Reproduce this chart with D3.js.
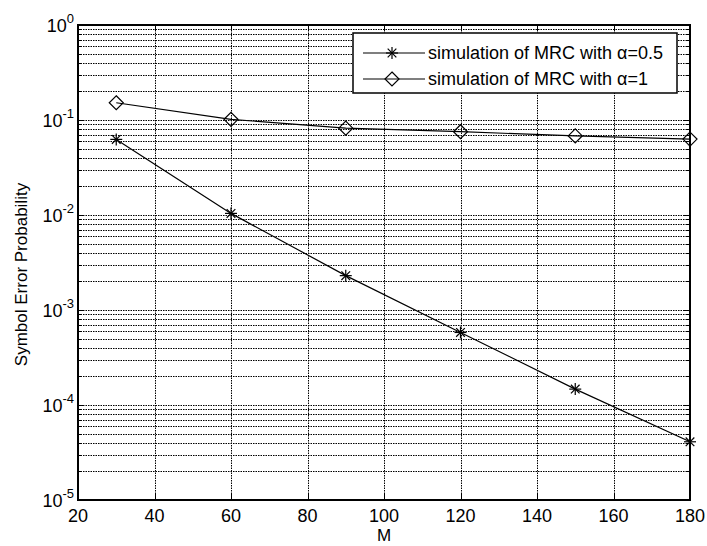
<!DOCTYPE html>
<html>
<head>
<meta charset="utf-8">
<script src="https://cdn.jsdelivr.net/npm/d3@7"></script>
<style>
  body { margin: 0; background: #fff; }
  svg { font-family: "Liberation Sans", Arial, sans-serif; }
</style>
</head>
<body>
<div id="chart"></div>
<script>
// data
const mValues = [30, 60, 90, 120, 150, 180];
const serHalf = [0.0625, 0.0104, 0.0023, 0.00058, 0.000147, 0.000041];
const serOne = [0.152, 0.1016, 0.082, 0.0753, 0.068, 0.063];
const xTicks = [20, 40, 60, 80, 100, 120, 140, 160, 180];
const yDecades = [-5, -4, -3, -2, -1, 0];
const seriesNames = ["simulation of MRC with \u03b1=0.5", "simulation of MRC with \u03b1=1"];

const W = 707, H = 546;
const margin = { top: 25, right: 17, bottom: 46, left: 78 };
const width = W - margin.left - margin.right;
const height = H - margin.top - margin.bottom;

const svg = d3.select("#chart").append("svg")
    .attr("width", W)
    .attr("height", H);

const g = svg.append("g")
    .attr("transform", `translate(${margin.left},${margin.top})`);

const x = d3.scaleLinear().domain([20, 180]).range([0, width]);
const y = d3.scaleLog().domain([1e-5, 1]).range([height, 0]);

// minor + major horizontal values
const yGrid = [];
yDecades.slice(0, -1).forEach(e => {
    for (let k = 1; k <= 9; k++) yGrid.push(k * Math.pow(10, e));
});
yGrid.push(1);

// grid lines (dotted)
g.append("g").selectAll("line.h")
    .data(yGrid)
    .join("line")
    .attr("x1", 0).attr("x2", width)
    .attr("y1", d => Math.round(y(d)) + 0.5)
    .attr("y2", d => Math.round(y(d)) + 0.5)
    .attr("stroke", "#000")
    .attr("stroke-width", 1)
    .attr("stroke-dasharray", "1.5,1");

g.append("g").selectAll("line.v")
    .data(xTicks)
    .join("line")
    .attr("x1", d => Math.round(x(d)) + 0.5)
    .attr("x2", d => Math.round(x(d)) + 0.5)
    .attr("y1", 0).attr("y2", height)
    .attr("stroke", "#000")
    .attr("stroke-width", 1)
    .attr("stroke-dasharray", "1.5,1");

// tick marks (inward, on all four sides)
const tk = g.append("g").attr("stroke", "#000").attr("stroke-width", 1);
xTicks.forEach(d => {
    const px = Math.round(x(d)) + 0.5;
    tk.append("line").attr("x1", px).attr("x2", px).attr("y1", height).attr("y2", height - 6);
    tk.append("line").attr("x1", px).attr("x2", px).attr("y1", 0).attr("y2", 6);
});
yGrid.forEach(d => {
    const py = Math.round(y(d)) + 0.5;
    const len = Math.abs(Math.log10(d) - Math.round(Math.log10(d))) < 1e-9 ? 6 : 3;
    tk.append("line").attr("x1", 0).attr("x2", len).attr("y1", py).attr("y2", py);
    tk.append("line").attr("x1", width).attr("x2", width - len).attr("y1", py).attr("y2", py);
});

// box
g.append("rect")
    .attr("x", 0).attr("y", 0)
    .attr("width", width).attr("height", height)
    .attr("fill", "none")
    .attr("stroke", "#000")
    .attr("stroke-width", 2);

// x tick labels
g.append("g").selectAll("text")
    .data(xTicks)
    .join("text")
    .attr("x", d => x(d))
    .attr("y", height + 22)
    .attr("text-anchor", "middle")
    .style("font-size", "18px")
    .text(d => d);

// y tick labels 10^e
const yl = g.append("g").selectAll("text")
    .data(yDecades)
    .join("text")
    .attr("x", -4)
    .attr("y", d => y(Math.pow(10, d)) + 7)
    .attr("text-anchor", "end")
    .style("font-size", "18px");
yl.append("tspan").text("10");
yl.append("tspan")
    .attr("dy", -9)
    .style("font-size", "13px")
    .text(d => d);

// axis titles
svg.append("text")
    .attr("x", margin.left + width / 2)
    .attr("y", H - 5)
    .attr("text-anchor", "middle")
    .style("font-size", "17px")
    .text("M");

svg.append("text")
    .attr("transform", `translate(27,${margin.top + height / 2 + 12}) rotate(-90)`)
    .attr("text-anchor", "middle")
    .style("font-size", "17px")
    .text("Symbol Error Probability");

// lines
const line = d3.line()
    .x((d, i) => x(mValues[i]))
    .y(d => y(d));

function star(sel, cx, cy, r) {
    const s = sel.append("g").attr("stroke", "#000").attr("stroke-width", 1.2);
    s.append("line").attr("x1", cx - r).attr("x2", cx + r).attr("y1", cy).attr("y2", cy);
    s.append("line").attr("x1", cx).attr("x2", cx).attr("y1", cy - r).attr("y2", cy + r);
    const q = r * 0.72;
    s.append("line").attr("x1", cx - q).attr("x2", cx + q).attr("y1", cy - q).attr("y2", cy + q);
    s.append("line").attr("x1", cx - q).attr("x2", cx + q).attr("y1", cy + q).attr("y2", cy - q);
}
function diamond(sel, cx, cy, r) {
    sel.append("path")
        .attr("d", `M${cx},${cy - r}L${cx + r},${cy}L${cx},${cy + r}L${cx - r},${cy}Z`)
        .attr("fill", "none")
        .attr("stroke", "#000")
        .attr("stroke-width", 1.2);
}

g.append("path")
    .datum(serOne)
    .attr("fill", "none")
    .attr("stroke", "#000")
    .attr("stroke-width", 1.2)
    .attr("d", line);
g.append("path")
    .datum(serHalf)
    .attr("fill", "none")
    .attr("stroke", "#000")
    .attr("stroke-width", 1.2)
    .attr("d", line);

serHalf.forEach((v, i) => star(g, x(mValues[i]), y(v), 6));
serOne.forEach((v, i) => diamond(g, x(mValues[i]), y(v), 7));

// legend
const lg = svg.append("g").attr("transform", "translate(353,33)");
lg.append("rect")
    .attr("width", 324).attr("height", 60)
    .attr("fill", "#fff")
    .attr("stroke", "#000")
    .attr("stroke-width", 1.5);
[0, 1].forEach(i => {
    const ly = 20 + i * 26;
    lg.append("line")
        .attr("x1", 10).attr("x2", 72)
        .attr("y1", ly).attr("y2", ly)
        .attr("stroke", "#000").attr("stroke-width", 1.2);
    if (i === 0) star(lg, 39, ly, 6); else diamond(lg, 39, ly, 7);
    lg.append("text")
        .attr("x", 75)
        .attr("y", ly + 6)
        .style("font-size", "18px")
        .text(seriesNames[i]);
});
</script>
</body>
</html>
